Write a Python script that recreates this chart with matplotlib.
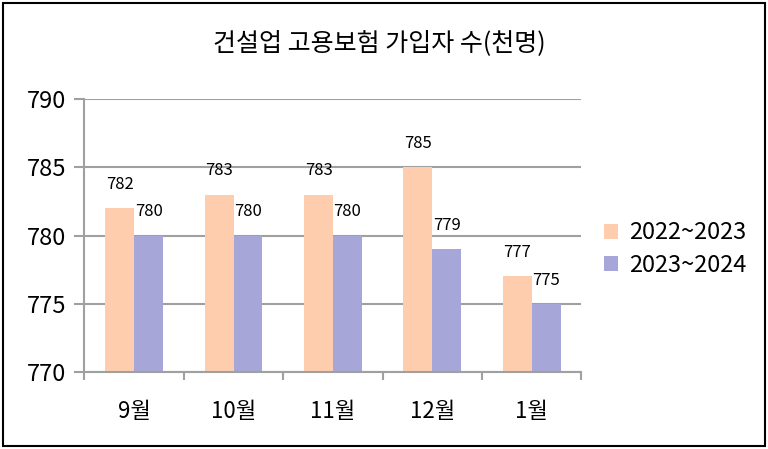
import numpy as np
import matplotlib.pyplot as plt
from matplotlib.patches import Rectangle

plt.rcParams['font.family'] = ['Noto Sans CJK KR', 'DejaVu Sans']

months = ["9월", "10월", "11월", "12월", "1월"]
series_names = ["2022~2023", "2023~2024"]
vals_2223 = [782, 783, 783, 785, 777]
vals_2324 = [780, 780, 780, 779, 775]

c_orange = "#fecdad"
c_blue = "#a6a6d8"
grid_col = "#a0a0a0"

fig = plt.figure(figsize=(7.68, 4.49), dpi=100)
ax = fig.add_axes([0.110, 0.1715, 0.647, 0.608])

x = np.arange(len(months))
w = 0.29
base = 770
b1 = ax.bar(x - w / 2, np.array(vals_2223) - base, w, bottom=base, color=c_orange, label=series_names[0])
b2 = ax.bar(x + w / 2, np.array(vals_2324) - base, w, bottom=base, color=c_blue, label=series_names[1])

# value labels above each bar
for xi, v in zip(x, vals_2223):
    ax.annotate(str(v), (xi - w / 2, v), xytext=(0, 17), textcoords="offset points",
                ha="center", va="center", fontsize=12)
for xi, v in zip(x, vals_2324):
    ax.annotate(str(v), (xi + w / 2, v), xytext=(0, 17), textcoords="offset points",
                ha="center", va="center", fontsize=12)

ax.set_xlim(-0.5, len(months) - 0.5)
ax.set_ylim(770, 790)
ax.set_yticks([770, 775, 780, 785, 790])
ax.yaxis.grid(True, color=grid_col, linewidth=1.5)
ax.set_axisbelow(True)

ax.set_xticks(x)
ax.set_xticklabels(months, fontsize=16)
ax.set_xticks(np.arange(-0.5, len(months)), minor=True)
ax.tick_params(axis="x", which="major", length=0, pad=20)
ax.tick_params(axis="x", which="minor", length=6, width=1.5, color=grid_col)
ax.tick_params(axis="y", length=7, width=1.5, color=grid_col, labelsize=17, pad=6)

for s in ["top", "right"]:
    ax.spines[s].set_visible(False)
for s in ["left", "bottom"]:
    ax.spines[s].set_color(grid_col)
    ax.spines[s].set_linewidth(1.5)

fig.text(0.4935, 0.905, "건설업 고용보험 가입자 수(천명)", ha="center", va="center", fontsize=18)

fig.legend(handles=[b1, b2], loc="center left", bbox_to_anchor=(0.759, 0.445),
           frameon=False, fontsize=17, handlelength=0.6, handleheight=0.6,
           handletextpad=0.45, labelspacing=0.4)

fig.patches.append(Rectangle((0.004, 0.006), 0.992, 0.988, transform=fig.transFigure,
                             fill=False, edgecolor="black", linewidth=1.5))

fig.savefig("out.png", dpi=100)
